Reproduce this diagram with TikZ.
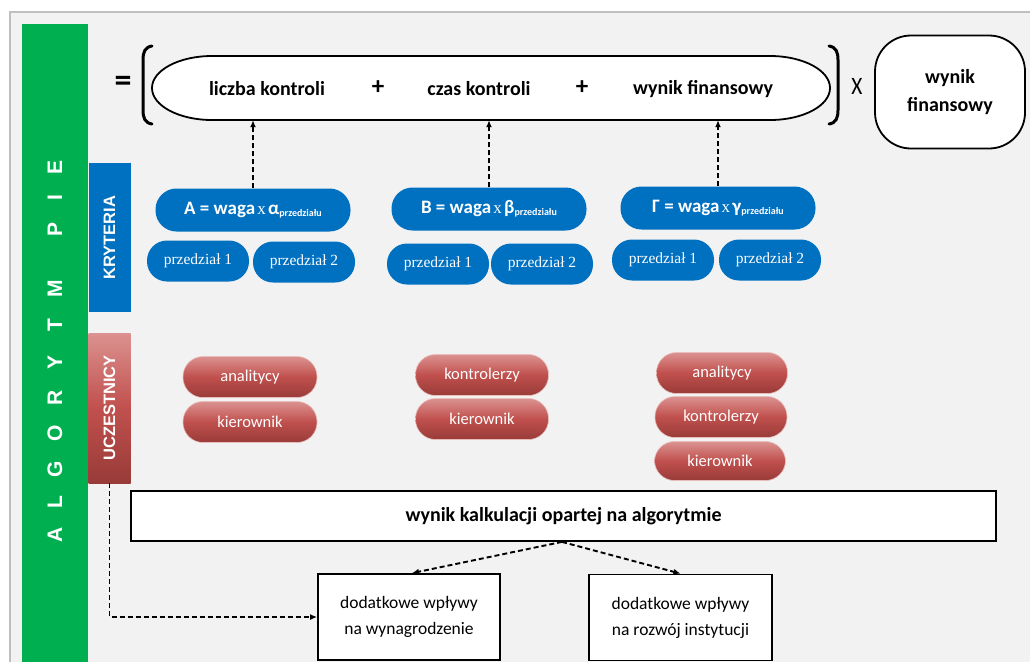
\documentclass[tikz,border=0pt]{standalone}
\usepackage{fontspec}
\setmainfont{Carlito}
\newfontfamily\tnr{Liberation Serif}
\newfontfamily\arl{Liberation Sans}
\usetikzlibrary{arrows.meta}
\definecolor{bgc}{HTML}{F2F2F2}
\definecolor{framec}{HTML}{BFBFBF}
\definecolor{greenc}{HTML}{00B050}
\definecolor{bluec}{HTML}{0070C0}
\definecolor{redlight}{HTML}{DB9290}
\definecolor{redmid}{HTML}{C0504D}
\definecolor{reddark}{HTML}{983B38}
\definecolor{redline}{HTML}{E8BDBC}
\tikzset{
  boldbig/.style={font=\bfseries\fontsize{20}{28}\selectfont},
  bluenode/.style={fill=bluec, text=white, rounded corners=21pt, minimum width=195pt, minimum height=43pt, inner sep=0pt},
  przedzial/.style={fill=bluec, text=white, rounded corners=20pt, minimum width=102pt, minimum height=41pt, inner sep=0pt, font=\tnr\fontsize{15.5}{15.5}\selectfont},
  rednode/.style={top color=redlight, bottom color=reddark, middle color=redmid, draw=redline, line width=0.6pt, text=white, rounded corners=20pt, minimum width=134pt, minimum height=41pt, inner sep=0pt, font=\fontsize{16.5}{16.5}\selectfont},
  whitebox/.style={draw=black, fill=white, line width=1.8pt, inner sep=0pt},
  dasharrow/.style={draw=black, line width=1.5pt, dash pattern=on 5pt off 3pt, -{Latex[length=7pt,width=6pt]}},
  thickdash/.style={dasharrow, line width=1.9pt},
  vletter/.style={rotate=90, text=white, font=\arl\bfseries\fontsize{21}{21}\selectfont, inner sep=0pt},
}
\newcommand{\critlabel}[2]{{\bfseries\fontsize{19}{19}\selectfont #1 = waga} {\tnr\fontsize{17}{17}\selectfont x} {\bfseries\fontsize{19}{19}\selectfont #2}\raisebox{-0.45ex}{\bfseries\fontsize{10}{10}\selectfont przedziału}}
\begin{document}
\begin{tikzpicture}[x=1pt,y=-1pt]
\useasboundingbox (0,0) rectangle (1030,662);
\fill[white] (0,0) rectangle (1030,662);
\fill[bgc] (10,12) rectangle (1030,662);
\draw[framec, line width=2pt] (10,662) -- (10,12) -- (1030,12);

% green bar
\fill[greenc] (22,24) rectangle (88,662);
\foreach \ch/\yy [count=\i] in {A/535, L/502, G/469, O/433, R/398, Y/362, T/325, M/289, P/229, I/198, E/167}
  \node[vletter] (alg\i) at (55,\yy) {\ch};

% side boxes
\node[rotate=90, fill=bluec, text=white, minimum width=149pt, minimum height=42pt, inner sep=0pt,
      font=\arl\bfseries\fontsize{16.5}{16.5}\selectfont] (kry) at (109.5,237.5) {KRYTERIA};
\node[rotate=90, top color=redlight, bottom color=reddark, middle color=redmid, text=white,
      minimum width=150pt, minimum height=42pt, inner sep=0pt,
      font=\arl\bfseries\fontsize{16.5}{16.5}\selectfont] (ucz) at (109.5,408) {UCZESTNICY};

% formula
\node[inner sep=0pt, minimum width=678pt, minimum height=64pt] (ell) at (491,88) {};
\draw[line width=1.8pt, fill=white] (212,56) -- (770,56)
   arc[start angle=-90, end angle=90, x radius=60, y radius=32] -- (212,120)
   arc[start angle=90, end angle=270, x radius=60, y radius=32] -- cycle;
\node[boldbig] (t1) at (267,89) {liczba kontroli};
\node[font=\bfseries\fontsize{25}{25}\selectfont] (p1) at (378,88) {+};
\node[boldbig] (t2) at (479,89) {czas kontroli};
\node[font=\bfseries\fontsize{25}{25}\selectfont] (p2) at (582,88) {+};
\node[boldbig] (t3) at (703,89) {wynik finansowy};
\node[font=\bfseries\fontsize{34}{34}\selectfont] (eq) at (123,84) {=};
\node[font=\fontsize{25}{25}\selectfont, xscale=0.85] (xx) at (857,86) {X};
\draw[line width=3pt, line cap=round] (152,46) .. controls (145,47) and (143,52) .. (143,60) -- (143,110) .. controls (143,118) and (145,123) .. (152,124);
\draw[line width=3pt, line cap=round] (829,46) .. controls (836,47) and (838,52) .. (838,60) -- (838,110) .. controls (838,118) and (836,123) .. (829,124);
\node[whitebox, rounded corners=36pt, minimum width=150pt, minimum height=113pt, align=center, boldbig] (wf) at (950,92) {wynik\\finansowy};

% blue criteria
\node[bluenode] (A) at (253,210) {\critlabel{A}{α}};
\node[bluenode] (B) at (489,209) {\critlabel{B}{β}};
\node[bluenode] (G) at (718,208) {\critlabel{Γ}{γ}};
\node[przedzial] (pA1) at (198,261) {przedział 1};
\node[przedzial] (pA2) at (304,262) {przedział 2};
\node[przedzial] (pB1) at (438,264) {przedział 1};
\node[przedzial] (pB2) at (542,264) {przedział 2};
\node[przedzial] (pG1) at (663,260) {przedział 1};
\node[przedzial] (pG2) at (770,260) {przedział 2};

\draw[dasharrow] (A.north) -- (A.north |- ell.south);
\draw[dasharrow] (B.north) -- (B.north |- ell.south);
\draw[dasharrow] (G.north) -- (G.north |- ell.south);

% participants
\node[rednode] (rA1) at (250,377) {analitycy};
\node[rednode] (rA2) at (250,422) {kierownik};
\node[rednode, minimum width=133pt] (rB1) at (482,375) {kontrolerzy};
\node[rednode, minimum width=133pt] (rB2) at (482,419) {kierownik};
\node[rednode, minimum width=131pt] (rG1) at (722,373) {analitycy};
\node[rednode, minimum width=132pt] (rG2) at (721,417) {kontrolerzy};
\node[rednode, minimum width=131pt, minimum height=39pt] (rG3) at (720,461) {kierownik};

% result
\node[whitebox, minimum width=865pt, minimum height=50pt, boldbig] (calc) at (563.5,516) {wynik kalkulacji opartej na algorytmie};
\node[whitebox, minimum width=182pt, minimum height=86pt, align=center, font=\fontsize{17.5}{26}\selectfont] (d1) at (409,617) {dodatkowe wpływy\\na wynagrodzenie};
\node[whitebox, minimum width=183pt, minimum height=86pt, align=center, font=\fontsize{17.5}{26}\selectfont] (d2) at (680.5,617.5) {dodatkowe wpływy\\na rozwój instytucji};

\coordinate (cs) at ([xshift=-1.5pt]calc.south);
\draw[thickdash] (cs) -- ([xshift=3pt]d1.north);
\draw[thickdash] (cs) -- (d2.north);
\draw[thickdash] (ucz.west) |- (d1.west);
\end{tikzpicture}
\end{document}
